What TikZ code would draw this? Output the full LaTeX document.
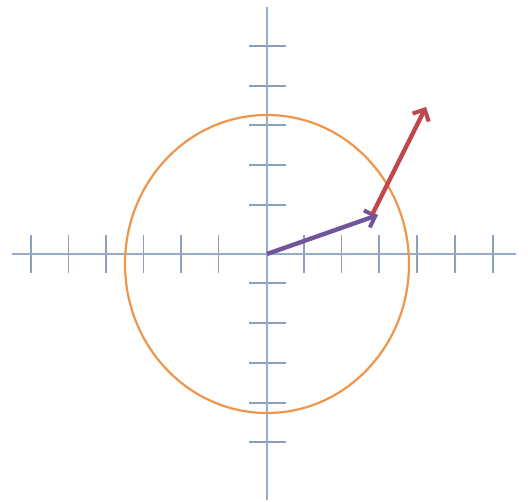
\documentclass[tikz,border=0pt]{standalone}
\usepackage{tikz}
\usetikzlibrary{calc,positioning,arrows.meta}

\begin{document}
\begin{tikzpicture}[x=1pt,y=-1pt,axis/.style={draw=axisblue,line width=1.8pt},tck/.style={draw=tickblue,line width=1.8pt},vec/.style={line width=4.4pt,-{Straight Barb[length=9pt,width=18pt,line width=4pt]}}]
      \definecolor{axisblue}{RGB}{150,172,205}
      \definecolor{tickblue}{RGB}{140,160,190}
      \definecolor{ringorange}{RGB}{238,150,75}
      \definecolor{vecpurple}{RGB}{112,84,156}
      \definecolor{vecred}{RGB}{190,72,78}
      \useasboundingbox (0,0) rectangle (528,502);

      \coordinate (O) at (267,254);
      \coordinate (xl) at (12,254);
      \coordinate (xr) at (516,254);
      \coordinate (yt) at (267,7);
      \coordinate (yb) at (267,500);
      \coordinate (C) at (267,264);
      \coordinate (P) at (378,215);
      \coordinate (Q) at (426,107);

      % ticks on the x axis
      \draw[tck] (31,235) -- (31,273);
      \draw[tck] (68.5,235) -- (68.5,273);
      \draw[tck] (106,235) -- (106,273);
      \draw[tck] (143.5,235) -- (143.5,273);
      \draw[tck] (181,235) -- (181,273);
      \draw[tck] (218.5,235) -- (218.5,273);
      \draw[tck] (304,235) -- (304,273);
      \draw[tck] (341.5,235) -- (341.5,273);
      \draw[tck] (379,235) -- (379,273);
      \draw[tck] (417,235) -- (417,273);
      \draw[tck] (455,235) -- (455,273);
      \draw[tck] (493,235) -- (493,273);

      % ticks on the y axis
      \draw[tck] (248.5,46) -- (285.5,46);
      \draw[tck] (248.5,86) -- (285.5,86);
      \draw[tck] (248.5,125) -- (285.5,125);
      \draw[tck] (248.5,165) -- (285.5,165);
      \draw[tck] (248.5,205) -- (285.5,205);
      \draw[tck] (248.5,283) -- (285.5,283);
      \draw[tck] (248.5,323) -- (285.5,323);
      \draw[tck] (248.5,363) -- (285.5,363);
      \draw[tck] (248.5,403) -- (285.5,403);
      \draw[tck] (248.5,442) -- (285.5,442);

      \draw[axis] (xl) -- (xr);
      \draw[axis] (yt) -- (yb);

      \draw[ringorange,line width=2.2pt] (C) ellipse [x radius=142,y radius=149];

      \draw[vec,vecpurple] (O) -- (P);
      \draw[vec,vecred] ($(P)+(-6,0)$) -- (Q);
\end{tikzpicture}
\end{document}
